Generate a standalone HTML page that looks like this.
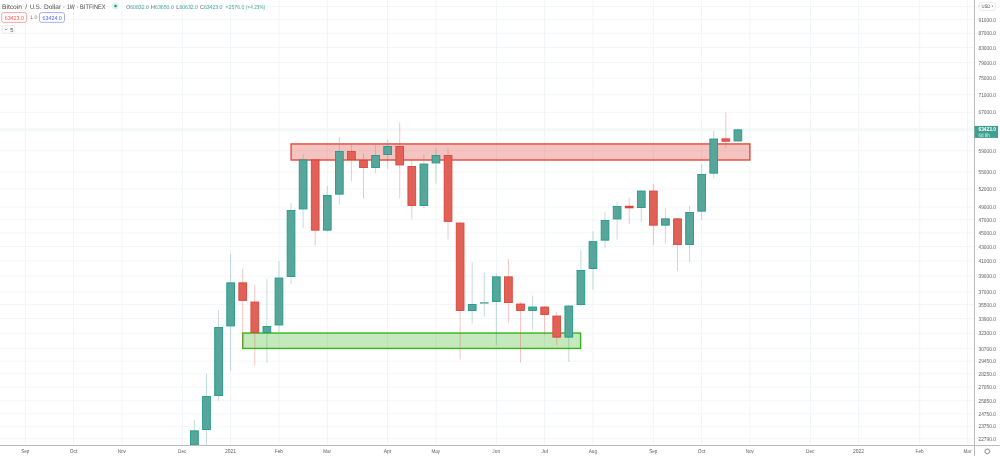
<!DOCTYPE html>
<html lang="en"><head><meta charset="utf-8"><title>Bitcoin / U.S. Dollar 1W BITFINEX</title>
<style>
html,body{margin:0;padding:0;background:#fff;}
body{width:1000px;height:456px;overflow:hidden;position:relative;font-family:"Liberation Sans",Arial,sans-serif;}
svg{display:block}
</style></head><body>
<svg width="1000" height="456" viewBox="0 0 1000 456" text-rendering="geometricPrecision" style="position:absolute;left:0;top:0">
<rect width="1000" height="456" fill="#fff"/>
<g stroke="#f3f6f9" stroke-width="1" fill="none">
<line x1="0" x2="974.5" y1="6.58" y2="6.58"/>
<line x1="0" x2="974.5" y1="19.60" y2="19.60"/>
<line x1="0" x2="974.5" y1="33.21" y2="33.21"/>
<line x1="0" x2="974.5" y1="47.46" y2="47.46"/>
<line x1="0" x2="974.5" y1="62.42" y2="62.42"/>
<line x1="0" x2="974.5" y1="78.15" y2="78.15"/>
<line x1="0" x2="974.5" y1="94.74" y2="94.74"/>
<line x1="0" x2="974.5" y1="112.30" y2="112.30"/>
<line x1="0" x2="974.5" y1="130.94" y2="130.94"/>
<line x1="0" x2="974.5" y1="150.80" y2="150.80"/>
<line x1="0" x2="974.5" y1="172.06" y2="172.06"/>
<line x1="0" x2="974.5" y1="189.04" y2="189.04"/>
<line x1="0" x2="974.5" y1="207.03" y2="207.03"/>
<line x1="0" x2="974.5" y1="219.65" y2="219.65"/>
<line x1="0" x2="974.5" y1="232.82" y2="232.82"/>
<line x1="0" x2="974.5" y1="246.58" y2="246.58"/>
<line x1="0" x2="974.5" y1="261.00" y2="261.00"/>
<line x1="0" x2="974.5" y1="276.14" y2="276.14"/>
<line x1="0" x2="974.5" y1="292.08" y2="292.08"/>
<line x1="0" x2="974.5" y1="304.61" y2="304.61"/>
<line x1="0" x2="974.5" y1="318.58" y2="318.58"/>
<line x1="0" x2="974.5" y1="333.22" y2="333.22"/>
<line x1="0" x2="974.5" y1="348.60" y2="348.60"/>
<line x1="0" x2="974.5" y1="361.19" y2="361.19"/>
<line x1="0" x2="974.5" y1="373.78" y2="373.78"/>
<line x1="0" x2="974.5" y1="386.92" y2="386.92"/>
<line x1="0" x2="974.5" y1="400.66" y2="400.66"/>
<line x1="0" x2="974.5" y1="413.83" y2="413.83"/>
<line x1="0" x2="974.5" y1="426.32" y2="426.32"/>
<line x1="0" x2="974.5" y1="438.81" y2="438.81"/>
</g>
<g stroke="#f0f4f7" stroke-width="1" fill="none">
<line x1="25.34" x2="25.34" y1="0" y2="445.5"/>
<line x1="73.65" x2="73.65" y1="0" y2="445.5"/>
<line x1="121.96" x2="121.96" y1="0" y2="445.5"/>
<line x1="182.34" x2="182.34" y1="0" y2="445.5"/>
<line x1="230.65" x2="230.65" y1="0" y2="445.5"/>
<line x1="278.96" x2="278.96" y1="0" y2="445.5"/>
<line x1="327.27" x2="327.27" y1="0" y2="445.5"/>
<line x1="387.65" x2="387.65" y1="0" y2="445.5"/>
<line x1="435.96" x2="435.96" y1="0" y2="445.5"/>
<line x1="496.35" x2="496.35" y1="0" y2="445.5"/>
<line x1="544.65" x2="544.65" y1="0" y2="445.5"/>
<line x1="592.96" x2="592.96" y1="0" y2="445.5"/>
<line x1="653.35" x2="653.35" y1="0" y2="445.5"/>
<line x1="701.65" x2="701.65" y1="0" y2="445.5"/>
<line x1="749.96" x2="749.96" y1="0" y2="445.5"/>
<line x1="810.35" x2="810.35" y1="0" y2="445.5"/>
<line x1="858.65" x2="858.65" y1="0" y2="445.5"/>
<line x1="919.70" x2="919.70" y1="0" y2="445.5"/>
<line x1="967.60" x2="967.60" y1="0" y2="445.5"/>
</g>
<line x1="0" x2="974.5" y1="129.2" y2="129.2" stroke="#ebf4f0" stroke-width="1.2"/>
<clipPath id="cp"><rect x="0" y="0" width="974.5" height="445.5"/></clipPath>
<g clip-path="url(#cp)">
<rect x="242.75" y="333.05" width="337.85" height="15.40" fill="#3cb521" fill-opacity="0.3" stroke="#37b41b" stroke-width="1.4"/>
<rect x="291.1" y="143.95" width="458.75" height="16.05" fill="#e2483c" fill-opacity="0.32" stroke="#e24f43" stroke-width="1.45"/>
<line x1="194.42" x2="194.42" y1="420" y2="447" stroke="#3d9488" stroke-width="0.7" stroke-opacity="0.44"/>
<line x1="206.50" x2="206.50" y1="373.6" y2="447" stroke="#3d9488" stroke-width="0.7" stroke-opacity="0.44"/>
<line x1="218.57" x2="218.57" y1="310" y2="400.6" stroke="#3d9488" stroke-width="0.7" stroke-opacity="0.44"/>
<line x1="230.65" x2="230.65" y1="254" y2="370.6" stroke="#3d9488" stroke-width="0.7" stroke-opacity="0.44"/>
<line x1="242.73" x2="242.73" y1="268.6" y2="348.8" stroke="#e2554a" stroke-width="0.7" stroke-opacity="0.48"/>
<line x1="254.80" x2="254.80" y1="285" y2="365.6" stroke="#e2554a" stroke-width="0.7" stroke-opacity="0.48"/>
<line x1="266.88" x2="266.88" y1="278.6" y2="362.6" stroke="#3d9488" stroke-width="0.7" stroke-opacity="0.44"/>
<line x1="278.96" x2="278.96" y1="261" y2="332" stroke="#3d9488" stroke-width="0.7" stroke-opacity="0.44"/>
<line x1="291.04" x2="291.04" y1="203" y2="284" stroke="#3d9488" stroke-width="0.7" stroke-opacity="0.44"/>
<line x1="303.11" x2="303.11" y1="154.4" y2="228" stroke="#3d9488" stroke-width="0.7" stroke-opacity="0.44"/>
<line x1="315.19" x2="315.19" y1="160" y2="245.4" stroke="#e2554a" stroke-width="0.7" stroke-opacity="0.48"/>
<line x1="327.27" x2="327.27" y1="186" y2="232" stroke="#3d9488" stroke-width="0.7" stroke-opacity="0.44"/>
<line x1="339.34" x2="339.34" y1="137" y2="204.6" stroke="#3d9488" stroke-width="0.7" stroke-opacity="0.44"/>
<line x1="351.42" x2="351.42" y1="144.4" y2="181.4" stroke="#e2554a" stroke-width="0.7" stroke-opacity="0.48"/>
<line x1="363.50" x2="363.50" y1="153.4" y2="198.6" stroke="#e2554a" stroke-width="0.7" stroke-opacity="0.48"/>
<line x1="375.57" x2="375.57" y1="145" y2="173" stroke="#3d9488" stroke-width="0.7" stroke-opacity="0.44"/>
<line x1="387.65" x2="387.65" y1="139.6" y2="169" stroke="#3d9488" stroke-width="0.7" stroke-opacity="0.44"/>
<line x1="399.73" x2="399.73" y1="122.4" y2="198" stroke="#e2554a" stroke-width="0.7" stroke-opacity="0.48"/>
<line x1="411.81" x2="411.81" y1="159" y2="219" stroke="#e2554a" stroke-width="0.7" stroke-opacity="0.48"/>
<line x1="423.88" x2="423.88" y1="154.4" y2="208" stroke="#3d9488" stroke-width="0.7" stroke-opacity="0.44"/>
<line x1="435.96" x2="435.96" y1="148" y2="183.6" stroke="#3d9488" stroke-width="0.7" stroke-opacity="0.44"/>
<line x1="448.04" x2="448.04" y1="148" y2="239.4" stroke="#e2554a" stroke-width="0.7" stroke-opacity="0.48"/>
<line x1="460.11" x2="460.11" y1="221.6" y2="359.6" stroke="#e2554a" stroke-width="0.7" stroke-opacity="0.48"/>
<line x1="472.19" x2="472.19" y1="262" y2="323.4" stroke="#3d9488" stroke-width="0.7" stroke-opacity="0.44"/>
<line x1="484.27" x2="484.27" y1="272.4" y2="316.4" stroke="#3d9488" stroke-width="0.7" stroke-opacity="0.44"/>
<line x1="496.35" x2="496.35" y1="273.6" y2="345" stroke="#3d9488" stroke-width="0.7" stroke-opacity="0.44"/>
<line x1="508.42" x2="508.42" y1="259" y2="323" stroke="#e2554a" stroke-width="0.7" stroke-opacity="0.48"/>
<line x1="520.50" x2="520.50" y1="302" y2="362.6" stroke="#e2554a" stroke-width="0.7" stroke-opacity="0.48"/>
<line x1="532.58" x2="532.58" y1="295.6" y2="329.6" stroke="#3d9488" stroke-width="0.7" stroke-opacity="0.44"/>
<line x1="544.65" x2="544.65" y1="306" y2="335" stroke="#e2554a" stroke-width="0.7" stroke-opacity="0.48"/>
<line x1="556.73" x2="556.73" y1="312" y2="345" stroke="#e2554a" stroke-width="0.7" stroke-opacity="0.48"/>
<line x1="568.81" x2="568.81" y1="305" y2="362" stroke="#3d9488" stroke-width="0.7" stroke-opacity="0.44"/>
<line x1="580.88" x2="580.88" y1="250" y2="306" stroke="#3d9488" stroke-width="0.7" stroke-opacity="0.44"/>
<line x1="592.96" x2="592.96" y1="231.2" y2="289.6" stroke="#3d9488" stroke-width="0.7" stroke-opacity="0.44"/>
<line x1="605.04" x2="605.04" y1="212.4" y2="247.8" stroke="#3d9488" stroke-width="0.7" stroke-opacity="0.44"/>
<line x1="617.12" x2="617.12" y1="202" y2="239.5" stroke="#3d9488" stroke-width="0.7" stroke-opacity="0.44"/>
<line x1="629.19" x2="629.19" y1="197.6" y2="224" stroke="#e2554a" stroke-width="0.7" stroke-opacity="0.48"/>
<line x1="641.27" x2="641.27" y1="190" y2="222" stroke="#3d9488" stroke-width="0.7" stroke-opacity="0.44"/>
<line x1="653.35" x2="653.35" y1="184" y2="245" stroke="#e2554a" stroke-width="0.7" stroke-opacity="0.48"/>
<line x1="665.42" x2="665.42" y1="208" y2="243.6" stroke="#3d9488" stroke-width="0.7" stroke-opacity="0.44"/>
<line x1="677.50" x2="677.50" y1="218" y2="271" stroke="#e2554a" stroke-width="0.7" stroke-opacity="0.48"/>
<line x1="689.58" x2="689.58" y1="206" y2="262.4" stroke="#3d9488" stroke-width="0.7" stroke-opacity="0.44"/>
<line x1="701.65" x2="701.65" y1="164" y2="220" stroke="#3d9488" stroke-width="0.7" stroke-opacity="0.44"/>
<line x1="713.73" x2="713.73" y1="131" y2="178.4" stroke="#3d9488" stroke-width="0.7" stroke-opacity="0.44"/>
<line x1="725.81" x2="725.81" y1="112.4" y2="148" stroke="#e2554a" stroke-width="0.7" stroke-opacity="0.48"/>
<line x1="737.88" x2="737.88" y1="128.6" y2="142.4" stroke="#3d9488" stroke-width="0.7" stroke-opacity="0.44"/>
<rect x="190.54" y="430.85" width="7.75" height="14.10" fill="#58a599" stroke="#1f9b8b" stroke-width="0.9"/>
<rect x="202.62" y="396.45" width="7.75" height="33.10" fill="#58a599" stroke="#1f9b8b" stroke-width="0.9"/>
<rect x="214.70" y="327.45" width="7.75" height="68.10" fill="#58a599" stroke="#1f9b8b" stroke-width="0.9"/>
<rect x="226.78" y="282.85" width="7.75" height="43.10" fill="#58a599" stroke="#1f9b8b" stroke-width="0.9"/>
<rect x="238.85" y="282.85" width="7.75" height="17.50" fill="#df6158" stroke="#e0443a" stroke-width="0.9"/>
<rect x="250.93" y="302.05" width="7.75" height="30.50" fill="#df6158" stroke="#e0443a" stroke-width="0.9"/>
<rect x="263.01" y="326.45" width="7.75" height="6.10" fill="#58a599" stroke="#1f9b8b" stroke-width="0.9"/>
<rect x="275.08" y="278.05" width="7.75" height="46.90" fill="#58a599" stroke="#1f9b8b" stroke-width="0.9"/>
<rect x="287.16" y="210.45" width="7.75" height="66.10" fill="#58a599" stroke="#1f9b8b" stroke-width="0.9"/>
<rect x="299.24" y="159.95" width="7.75" height="49.00" fill="#58a599" stroke="#1f9b8b" stroke-width="0.9"/>
<rect x="311.31" y="159.95" width="7.75" height="70.20" fill="#df6158" stroke="#e0443a" stroke-width="0.9"/>
<rect x="323.39" y="195.45" width="7.75" height="34.70" fill="#58a599" stroke="#1f9b8b" stroke-width="0.9"/>
<rect x="335.47" y="151.45" width="7.75" height="42.70" fill="#58a599" stroke="#1f9b8b" stroke-width="0.9"/>
<rect x="347.55" y="151.45" width="7.75" height="8.10" fill="#df6158" stroke="#e0443a" stroke-width="0.9"/>
<rect x="359.62" y="160.45" width="7.75" height="7.10" fill="#df6158" stroke="#e0443a" stroke-width="0.9"/>
<rect x="371.70" y="155.45" width="7.75" height="12.10" fill="#58a599" stroke="#1f9b8b" stroke-width="0.9"/>
<rect x="383.78" y="146.45" width="7.75" height="8.10" fill="#58a599" stroke="#1f9b8b" stroke-width="0.9"/>
<rect x="395.85" y="146.45" width="7.75" height="18.50" fill="#df6158" stroke="#e0443a" stroke-width="0.9"/>
<rect x="407.93" y="166.45" width="7.75" height="39.10" fill="#df6158" stroke="#e0443a" stroke-width="0.9"/>
<rect x="420.01" y="164.05" width="7.75" height="41.50" fill="#58a599" stroke="#1f9b8b" stroke-width="0.9"/>
<rect x="432.08" y="155.45" width="7.75" height="7.50" fill="#58a599" stroke="#1f9b8b" stroke-width="0.9"/>
<rect x="444.16" y="155.45" width="7.75" height="65.90" fill="#df6158" stroke="#e0443a" stroke-width="0.9"/>
<rect x="456.24" y="223.05" width="7.75" height="87.50" fill="#df6158" stroke="#e0443a" stroke-width="0.9"/>
<rect x="468.32" y="304.45" width="7.75" height="6.10" fill="#58a599" stroke="#1f9b8b" stroke-width="0.9"/>
<rect x="480.39" y="302.55" width="7.75" height="0.80" fill="#7db8ae" stroke="#7db8ae" stroke-width="0.9"/>
<rect x="492.47" y="276.85" width="7.75" height="24.60" fill="#58a599" stroke="#1f9b8b" stroke-width="0.9"/>
<rect x="504.55" y="276.85" width="7.75" height="25.70" fill="#df6158" stroke="#e0443a" stroke-width="0.9"/>
<rect x="516.62" y="304.05" width="7.75" height="6.50" fill="#df6158" stroke="#e0443a" stroke-width="0.9"/>
<rect x="528.70" y="307.05" width="7.75" height="3.50" fill="#58a599" stroke="#1f9b8b" stroke-width="0.9"/>
<rect x="540.78" y="307.05" width="7.75" height="7.50" fill="#df6158" stroke="#e0443a" stroke-width="0.9"/>
<rect x="552.86" y="316.05" width="7.75" height="21.10" fill="#df6158" stroke="#e0443a" stroke-width="0.9"/>
<rect x="564.93" y="306.05" width="7.75" height="31.10" fill="#58a599" stroke="#1f9b8b" stroke-width="0.9"/>
<rect x="577.01" y="270.45" width="7.75" height="34.10" fill="#58a599" stroke="#1f9b8b" stroke-width="0.9"/>
<rect x="589.09" y="241.65" width="7.75" height="26.90" fill="#58a599" stroke="#1f9b8b" stroke-width="0.9"/>
<rect x="601.16" y="220.45" width="7.75" height="19.70" fill="#58a599" stroke="#1f9b8b" stroke-width="0.9"/>
<rect x="613.24" y="206.45" width="7.75" height="12.50" fill="#58a599" stroke="#1f9b8b" stroke-width="0.9"/>
<rect x="625.32" y="206.25" width="7.75" height="1.60" fill="#e2372c" stroke="#e2372c" stroke-width="0.9"/>
<rect x="637.39" y="191.05" width="7.75" height="16.50" fill="#58a599" stroke="#1f9b8b" stroke-width="0.9"/>
<rect x="649.47" y="191.05" width="7.75" height="34.10" fill="#df6158" stroke="#e0443a" stroke-width="0.9"/>
<rect x="661.55" y="218.85" width="7.75" height="6.30" fill="#58a599" stroke="#1f9b8b" stroke-width="0.9"/>
<rect x="673.62" y="218.85" width="7.75" height="25.70" fill="#df6158" stroke="#e0443a" stroke-width="0.9"/>
<rect x="685.70" y="212.45" width="7.75" height="32.10" fill="#58a599" stroke="#1f9b8b" stroke-width="0.9"/>
<rect x="697.78" y="174.45" width="7.75" height="36.70" fill="#58a599" stroke="#1f9b8b" stroke-width="0.9"/>
<rect x="709.86" y="139.05" width="7.75" height="34.10" fill="#58a599" stroke="#1f9b8b" stroke-width="0.9"/>
<rect x="721.93" y="138.85" width="7.75" height="2.40" fill="#df6158" stroke="#e0443a" stroke-width="0.9"/>
<rect x="734.01" y="129.85" width="7.75" height="11.10" fill="#58a599" stroke="#1f9b8b" stroke-width="0.9"/>
</g>
<line x1="974.5" x2="974.5" y1="0" y2="456" stroke="#bbbbbb" stroke-width="1"/>
<line x1="0" x2="1000" y1="445.5" y2="445.5" stroke="#bbbbbb" stroke-width="1"/>
<g font-family="Liberation Sans, Arial, sans-serif" font-size="5.8" fill="#5e5e5e">
<text x="978.5" y="21.70" textLength="17.4" lengthAdjust="spacingAndGlyphs">91000.0</text>
<text x="978.5" y="35.31" textLength="17.4" lengthAdjust="spacingAndGlyphs">87000.0</text>
<text x="978.5" y="49.56" textLength="17.4" lengthAdjust="spacingAndGlyphs">83000.0</text>
<text x="978.5" y="64.52" textLength="17.4" lengthAdjust="spacingAndGlyphs">79000.0</text>
<text x="978.5" y="80.25" textLength="17.4" lengthAdjust="spacingAndGlyphs">75000.0</text>
<text x="978.5" y="96.84" textLength="17.4" lengthAdjust="spacingAndGlyphs">71000.0</text>
<text x="978.5" y="114.40" textLength="17.4" lengthAdjust="spacingAndGlyphs">67000.0</text>
<text x="978.5" y="152.90" textLength="17.4" lengthAdjust="spacingAndGlyphs">59000.0</text>
<text x="978.5" y="174.16" textLength="17.4" lengthAdjust="spacingAndGlyphs">55000.0</text>
<text x="978.5" y="191.14" textLength="17.4" lengthAdjust="spacingAndGlyphs">52000.0</text>
<text x="978.5" y="209.13" textLength="17.4" lengthAdjust="spacingAndGlyphs">49000.0</text>
<text x="978.5" y="221.75" textLength="17.4" lengthAdjust="spacingAndGlyphs">47000.0</text>
<text x="978.5" y="234.92" textLength="17.4" lengthAdjust="spacingAndGlyphs">45000.0</text>
<text x="978.5" y="248.68" textLength="17.4" lengthAdjust="spacingAndGlyphs">43000.0</text>
<text x="978.5" y="263.10" textLength="17.4" lengthAdjust="spacingAndGlyphs">41000.0</text>
<text x="978.5" y="278.24" textLength="17.4" lengthAdjust="spacingAndGlyphs">39000.0</text>
<text x="978.5" y="294.18" textLength="17.4" lengthAdjust="spacingAndGlyphs">37000.0</text>
<text x="978.5" y="306.71" textLength="17.4" lengthAdjust="spacingAndGlyphs">35500.0</text>
<text x="978.5" y="320.68" textLength="17.4" lengthAdjust="spacingAndGlyphs">33900.0</text>
<text x="978.5" y="335.32" textLength="17.4" lengthAdjust="spacingAndGlyphs">32300.0</text>
<text x="978.5" y="350.70" textLength="17.4" lengthAdjust="spacingAndGlyphs">30700.0</text>
<text x="978.5" y="363.29" textLength="17.4" lengthAdjust="spacingAndGlyphs">29450.0</text>
<text x="978.5" y="375.88" textLength="17.4" lengthAdjust="spacingAndGlyphs">28250.0</text>
<text x="978.5" y="389.02" textLength="17.4" lengthAdjust="spacingAndGlyphs">27050.0</text>
<text x="978.5" y="402.76" textLength="17.4" lengthAdjust="spacingAndGlyphs">25850.0</text>
<text x="978.5" y="415.93" textLength="17.4" lengthAdjust="spacingAndGlyphs">24750.0</text>
<text x="978.5" y="428.42" textLength="17.4" lengthAdjust="spacingAndGlyphs">23750.0</text>
<text x="978.5" y="440.91" textLength="17.4" lengthAdjust="spacingAndGlyphs">22790.0</text>
<text x="21.19" y="453.3" font-size="5.6" textLength="8.1" lengthAdjust="spacingAndGlyphs">Sep</text>
<text x="69.80" y="453.3" font-size="5.6" textLength="7.5" lengthAdjust="spacingAndGlyphs">Oct</text>
<text x="117.81" y="453.3" font-size="5.6" textLength="8.1" lengthAdjust="spacingAndGlyphs">Nov</text>
<text x="178.09" y="453.3" font-size="5.6" textLength="8.3" lengthAdjust="spacingAndGlyphs">Dec</text>
<text x="224.95" y="453.3" font-size="5.6" textLength="11.2" lengthAdjust="spacingAndGlyphs">2021</text>
<text x="274.86" y="453.3" font-size="5.6" textLength="8.0" lengthAdjust="spacingAndGlyphs">Feb</text>
<text x="323.27" y="453.3" font-size="5.6" textLength="7.8" lengthAdjust="spacingAndGlyphs">Mar</text>
<text x="383.70" y="453.3" font-size="5.6" textLength="7.7" lengthAdjust="spacingAndGlyphs">Apr</text>
<text x="431.61" y="453.3" font-size="5.6" textLength="8.5" lengthAdjust="spacingAndGlyphs">May</text>
<text x="492.35" y="453.3" font-size="5.6" textLength="7.8" lengthAdjust="spacingAndGlyphs">Jun</text>
<text x="541.15" y="453.3" font-size="5.6" textLength="6.8" lengthAdjust="spacingAndGlyphs">Jul</text>
<text x="588.76" y="453.3" font-size="5.6" textLength="8.2" lengthAdjust="spacingAndGlyphs">Aug</text>
<text x="649.20" y="453.3" font-size="5.6" textLength="8.1" lengthAdjust="spacingAndGlyphs">Sep</text>
<text x="697.80" y="453.3" font-size="5.6" textLength="7.5" lengthAdjust="spacingAndGlyphs">Oct</text>
<text x="745.81" y="453.3" font-size="5.6" textLength="8.1" lengthAdjust="spacingAndGlyphs">Nov</text>
<text x="806.10" y="453.3" font-size="5.6" textLength="8.3" lengthAdjust="spacingAndGlyphs">Dec</text>
<text x="852.95" y="453.3" font-size="5.6" textLength="11.2" lengthAdjust="spacingAndGlyphs">2022</text>
<text x="915.60" y="453.3" font-size="5.6" textLength="8.0" lengthAdjust="spacingAndGlyphs">Feb</text>
<text x="963.60" y="453.3" font-size="5.6" textLength="7.8" lengthAdjust="spacingAndGlyphs">Mar</text>
</g>
<rect x="974.5" y="125.9" width="23.6" height="12" fill="#3f9f90"/>
<g font-family="Liberation Sans, Arial, sans-serif" fill="#fff"><text x="978.5" y="131.2" font-size="5.8" font-weight="bold" textLength="17.4" lengthAdjust="spacingAndGlyphs">63423.0</text><text x="978.5" y="137.0" font-size="5.4" fill="#d8efe9" textLength="11.2" lengthAdjust="spacingAndGlyphs">6d 8h</text></g>
<rect x="979.3" y="2.3" width="16.0" height="8.0" rx="1.8" fill="#fff" stroke="#dedede" stroke-width="0.6"/>
<text x="981.5" y="7.95" font-family="Liberation Sans, Arial, sans-serif" font-size="5.2" fill="#505050" textLength="8.8" lengthAdjust="spacingAndGlyphs">USD</text>
<path d="M991.4 5.7 l2 0 l-1 1.3 z" fill="#777"/>
<circle cx="978.6" cy="6.3" r="0.45" fill="#999"/><circle cx="995.6" cy="6.4" r="0.4" fill="#aaa"/>
<circle cx="987.3" cy="451.4" r="2.25" fill="none" stroke="#777" stroke-width="0.75"/>
<circle cx="987.3" cy="451.4" r="2.9" fill="none" stroke="#888" stroke-width="0.7" stroke-dasharray="0.76 1.517"/>
<g font-family="Liberation Sans, Arial, sans-serif" font-size="6.6" fill="#4c4c4c" >
<text x="2.0" y="8.7" textLength="20.00" lengthAdjust="spacingAndGlyphs">Bitcoin</text>
<text x="26.2" y="8.7" text-anchor="middle">/</text>
<text x="29.9" y="8.7" textLength="11.40" lengthAdjust="spacingAndGlyphs">U.S.</text>
<text x="44.0" y="8.7" textLength="17.10" lengthAdjust="spacingAndGlyphs">Dollar</text>
<text x="63.8" y="8.7" text-anchor="middle">·</text>
<text x="66.9" y="8.7" textLength="7.90" lengthAdjust="spacingAndGlyphs">1W</text>
<text x="77.6" y="8.7" text-anchor="middle">·</text>
<text x="80.1" y="8.7" textLength="25.50" lengthAdjust="spacingAndGlyphs">BITFINEX</text>
</g>
<circle cx="115.5" cy="6.1" r="3.3" fill="#dcefeb"/><circle cx="115.5" cy="6.1" r="1.25" fill="#1f9080"/>
<g font-family="Liberation Sans, Arial, sans-serif" font-size="5.8" fill="#45a394" >
<text x="126.2" y="8.6" textLength="4.00" lengthAdjust="spacingAndGlyphs" fill="#666">O</text>
<text x="130.2" y="8.6" textLength="18.60" lengthAdjust="spacingAndGlyphs">60832.0</text>
<text x="151.1" y="8.6" textLength="3.90" lengthAdjust="spacingAndGlyphs" fill="#666">H</text>
<text x="155.0" y="8.6" textLength="18.80" lengthAdjust="spacingAndGlyphs">63650.0</text>
<text x="176.3" y="8.6" textLength="3.10" lengthAdjust="spacingAndGlyphs" fill="#666">L</text>
<text x="179.4" y="8.6" textLength="18.50" lengthAdjust="spacingAndGlyphs">60632.0</text>
<text x="200.1" y="8.6" textLength="3.80" lengthAdjust="spacingAndGlyphs" fill="#666">C</text>
<text x="203.9" y="8.6" textLength="18.60" lengthAdjust="spacingAndGlyphs">63423.0</text>
<text x="225.6" y="8.6" textLength="18.70" lengthAdjust="spacingAndGlyphs">+2576.0</text>
<text x="246.0" y="8.6" textLength="19.10" lengthAdjust="spacingAndGlyphs">(+4.23%)</text>
</g>
<rect x="0" y="11.6" width="66.5" height="11.8" fill="#fff"/>
<rect x="1.7" y="12.6" width="25.0" height="9.7" rx="2" fill="#fff" stroke="#ef8580" stroke-width="0.75"/>
<text x="4.7" y="19.5" font-family="Liberation Sans, Arial, sans-serif" font-size="5.8" fill="#e8564d" textLength="19.2" lengthAdjust="spacingAndGlyphs">63423.0</text>
<text x="33.7" y="19.4" font-family="Liberation Sans, Arial, sans-serif" font-size="5.2" fill="#777" text-anchor="middle">1.0</text>
<rect x="39.5" y="12.6" width="25.0" height="9.7" rx="2" fill="#fff" stroke="#8896f6" stroke-width="0.75"/>
<text x="42.6" y="19.5" font-family="Liberation Sans, Arial, sans-serif" font-size="5.8" fill="#4a63f0" textLength="19.2" lengthAdjust="spacingAndGlyphs">63424.0</text>
<rect x="2.2" y="25.6" width="12.4" height="7.6" rx="1.5" fill="#fff" stroke="#dcdcdc" stroke-width="0.6"/>
<path d="M4.9 28.7 l1.3 1.3 l1.3 -1.3" fill="none" stroke="#555" stroke-width="0.6"/>
<text x="10.2" y="31.5" font-family="Liberation Sans, Arial, sans-serif" font-size="5.8" fill="#444">5</text>
</svg>
</body></html>
